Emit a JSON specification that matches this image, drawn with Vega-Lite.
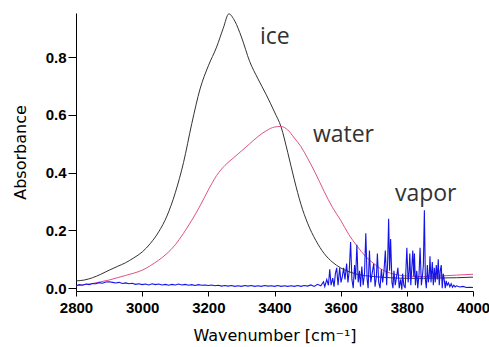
{
  "$schema": "https://vega.github.io/schema/vega-lite/v6.json",
  "width": 397,
  "height": 278,
  "autosize": {"type": "none"},
  "padding": {"left": 76, "top": 13, "right": 16, "bottom": 56},
  "background": "white",
  "config": {
    "view": {"stroke": null},
    "axis": {
      "grid": false,
      "domainColor": "#000000",
      "domainWidth": 1,
      "tickColor": "#000000",
      "labelColor": "#000000",
      "labelFont": "Liberation Sans",
      "labelFontWeight": "bold",
      "labelFontSize": 15,
      "labelFlush": false,
      "titleFont": "DejaVu Sans",
      "titleFontWeight": "normal",
      "titleFontSize": 16,
      "titleColor": "#000000"
    }
  },
  "datasets": {
    "ice": [
      {"x": 2800, "y": 0.025}, {"x": 2825, "y": 0.028}, {"x": 2850, "y": 0.036}, {"x": 2875, "y": 0.048},
      {"x": 2900, "y": 0.062}, {"x": 2925, "y": 0.075}, {"x": 2950, "y": 0.088}, {"x": 2975, "y": 0.105},
      {"x": 3000, "y": 0.125}, {"x": 3025, "y": 0.155}, {"x": 3050, "y": 0.195}, {"x": 3075, "y": 0.25},
      {"x": 3100, "y": 0.33}, {"x": 3125, "y": 0.435}, {"x": 3150, "y": 0.57}, {"x": 3175, "y": 0.69},
      {"x": 3200, "y": 0.77}, {"x": 3225, "y": 0.835}, {"x": 3245, "y": 0.9}, {"x": 3262, "y": 0.95},
      {"x": 3280, "y": 0.925}, {"x": 3300, "y": 0.87}, {"x": 3325, "y": 0.785}, {"x": 3350, "y": 0.725},
      {"x": 3375, "y": 0.67}, {"x": 3400, "y": 0.61}, {"x": 3420, "y": 0.558}, {"x": 3440, "y": 0.47},
      {"x": 3460, "y": 0.375}, {"x": 3480, "y": 0.29}, {"x": 3500, "y": 0.225}, {"x": 3525, "y": 0.165},
      {"x": 3550, "y": 0.12}, {"x": 3575, "y": 0.09}, {"x": 3600, "y": 0.07}, {"x": 3625, "y": 0.057},
      {"x": 3650, "y": 0.048}, {"x": 3675, "y": 0.043}, {"x": 3700, "y": 0.04}, {"x": 3750, "y": 0.036},
      {"x": 3800, "y": 0.034}, {"x": 3850, "y": 0.034}, {"x": 3900, "y": 0.035}, {"x": 3950, "y": 0.036},
      {"x": 4000, "y": 0.038}
    ],
    "water": [
      {"x": 2800, "y": 0.008}, {"x": 2825, "y": 0.012}, {"x": 2850, "y": 0.016}, {"x": 2875, "y": 0.022},
      {"x": 2900, "y": 0.028}, {"x": 2925, "y": 0.036}, {"x": 2950, "y": 0.044}, {"x": 2975, "y": 0.052},
      {"x": 3000, "y": 0.062}, {"x": 3025, "y": 0.078}, {"x": 3050, "y": 0.097}, {"x": 3075, "y": 0.12},
      {"x": 3100, "y": 0.15}, {"x": 3125, "y": 0.19}, {"x": 3150, "y": 0.235}, {"x": 3175, "y": 0.285},
      {"x": 3200, "y": 0.34}, {"x": 3225, "y": 0.39}, {"x": 3250, "y": 0.425}, {"x": 3275, "y": 0.45},
      {"x": 3300, "y": 0.475}, {"x": 3325, "y": 0.5}, {"x": 3350, "y": 0.525}, {"x": 3375, "y": 0.545},
      {"x": 3400, "y": 0.558}, {"x": 3420, "y": 0.56}, {"x": 3440, "y": 0.548}, {"x": 3460, "y": 0.52},
      {"x": 3480, "y": 0.49}, {"x": 3500, "y": 0.45}, {"x": 3525, "y": 0.395}, {"x": 3550, "y": 0.335},
      {"x": 3575, "y": 0.28}, {"x": 3600, "y": 0.235}, {"x": 3625, "y": 0.185}, {"x": 3650, "y": 0.145},
      {"x": 3675, "y": 0.11}, {"x": 3700, "y": 0.085}, {"x": 3725, "y": 0.064}, {"x": 3750, "y": 0.052},
      {"x": 3775, "y": 0.045}, {"x": 3800, "y": 0.042}, {"x": 3850, "y": 0.04}, {"x": 3900, "y": 0.042},
      {"x": 3950, "y": 0.045}, {"x": 4000, "y": 0.048}
    ],
    "vapor": [
      {"x": 2800, "y": 0.008}, {"x": 2810, "y": 0.012}, {"x": 2820, "y": 0.01}, {"x": 2830, "y": 0.014},
      {"x": 2840, "y": 0.012}, {"x": 2850, "y": 0.016}, {"x": 2860, "y": 0.015}, {"x": 2870, "y": 0.019},
      {"x": 2880, "y": 0.017}, {"x": 2890, "y": 0.021}, {"x": 2900, "y": 0.022}, {"x": 2910, "y": 0.02},
      {"x": 2920, "y": 0.018}, {"x": 2930, "y": 0.02}, {"x": 2940, "y": 0.016}, {"x": 2950, "y": 0.018},
      {"x": 2960, "y": 0.015}, {"x": 2970, "y": 0.017}, {"x": 2980, "y": 0.013}, {"x": 2990, "y": 0.015},
      {"x": 3000, "y": 0.012}, {"x": 3010, "y": 0.014}, {"x": 3020, "y": 0.011}, {"x": 3030, "y": 0.015},
      {"x": 3040, "y": 0.012}, {"x": 3050, "y": 0.014}, {"x": 3060, "y": 0.011}, {"x": 3070, "y": 0.013},
      {"x": 3080, "y": 0.01}, {"x": 3090, "y": 0.013}, {"x": 3100, "y": 0.011}, {"x": 3110, "y": 0.014},
      {"x": 3120, "y": 0.011}, {"x": 3130, "y": 0.013}, {"x": 3140, "y": 0.01}, {"x": 3150, "y": 0.012},
      {"x": 3160, "y": 0.009}, {"x": 3170, "y": 0.012}, {"x": 3180, "y": 0.01}, {"x": 3190, "y": 0.011},
      {"x": 3200, "y": 0.009}, {"x": 3210, "y": 0.011}, {"x": 3220, "y": 0.008}, {"x": 3230, "y": 0.01},
      {"x": 3240, "y": 0.007}, {"x": 3250, "y": 0.009}, {"x": 3260, "y": 0.007}, {"x": 3270, "y": 0.009},
      {"x": 3280, "y": 0.006}, {"x": 3290, "y": 0.008}, {"x": 3300, "y": 0.006}, {"x": 3310, "y": 0.009},
      {"x": 3320, "y": 0.007}, {"x": 3330, "y": 0.009}, {"x": 3340, "y": 0.006}, {"x": 3350, "y": 0.008},
      {"x": 3360, "y": 0.006}, {"x": 3370, "y": 0.009}, {"x": 3380, "y": 0.007}, {"x": 3390, "y": 0.008},
      {"x": 3400, "y": 0.006}, {"x": 3410, "y": 0.009}, {"x": 3420, "y": 0.006}, {"x": 3430, "y": 0.008},
      {"x": 3440, "y": 0.006}, {"x": 3450, "y": 0.008}, {"x": 3460, "y": 0.006}, {"x": 3470, "y": 0.009},
      {"x": 3480, "y": 0.006}, {"x": 3490, "y": 0.009}, {"x": 3500, "y": 0.007}, {"x": 3510, "y": 0.011},
      {"x": 3520, "y": 0.006}, {"x": 3530, "y": 0.013}, {"x": 3540, "y": 0.008}, {"x": 3548, "y": 0.022},
      {"x": 3552, "y": 0.005}, {"x": 3558, "y": 0.03}, {"x": 3563, "y": 0.01}, {"x": 3567, "y": 0.065},
      {"x": 3571, "y": 0.01}, {"x": 3576, "y": 0.035}, {"x": 3580, "y": 0.005}, {"x": 3584, "y": 0.05},
      {"x": 3588, "y": 0.07}, {"x": 3592, "y": 0.01}, {"x": 3597, "y": 0.07}, {"x": 3601, "y": 0.02},
      {"x": 3605, "y": 0.04}, {"x": 3609, "y": 0.07}, {"x": 3613, "y": 0.03}, {"x": 3618, "y": 0.085},
      {"x": 3622, "y": 0.02}, {"x": 3626, "y": 0.06}, {"x": 3630, "y": 0.16}, {"x": 3634, "y": 0.03},
      {"x": 3638, "y": 0.0}, {"x": 3642, "y": 0.08}, {"x": 3645, "y": 0.03}, {"x": 3649, "y": 0.15},
      {"x": 3653, "y": 0.02}, {"x": 3657, "y": 0.06}, {"x": 3660, "y": 0.005}, {"x": 3664, "y": 0.075},
      {"x": 3668, "y": 0.01}, {"x": 3672, "y": 0.05}, {"x": 3676, "y": 0.19}, {"x": 3680, "y": 0.03},
      {"x": 3683, "y": 0.0}, {"x": 3687, "y": 0.13}, {"x": 3691, "y": 0.02}, {"x": 3695, "y": 0.05},
      {"x": 3700, "y": 0.085}, {"x": 3704, "y": 0.005}, {"x": 3708, "y": 0.04}, {"x": 3711, "y": 0.12},
      {"x": 3715, "y": 0.02}, {"x": 3719, "y": 0.0}, {"x": 3723, "y": 0.065}, {"x": 3727, "y": 0.02},
      {"x": 3731, "y": 0.06}, {"x": 3735, "y": 0.13}, {"x": 3739, "y": 0.01}, {"x": 3742, "y": 0.09},
      {"x": 3745, "y": 0.24}, {"x": 3748, "y": 0.06}, {"x": 3751, "y": 0.17}, {"x": 3755, "y": 0.02},
      {"x": 3758, "y": 0.0}, {"x": 3761, "y": 0.06}, {"x": 3765, "y": 0.01}, {"x": 3769, "y": 0.04},
      {"x": 3773, "y": 0.07}, {"x": 3777, "y": 0.0}, {"x": 3781, "y": 0.03}, {"x": 3785, "y": -0.005},
      {"x": 3787, "y": 0.05}, {"x": 3791, "y": 0.01}, {"x": 3795, "y": 0.0}, {"x": 3800, "y": 0.14},
      {"x": 3804, "y": 0.02}, {"x": 3807, "y": 0.06}, {"x": 3809, "y": 0.12}, {"x": 3812, "y": 0.01},
      {"x": 3815, "y": 0.07}, {"x": 3818, "y": 0.13}, {"x": 3821, "y": 0.04}, {"x": 3823, "y": 0.12},
      {"x": 3826, "y": 0.01}, {"x": 3830, "y": 0.06}, {"x": 3833, "y": 0.0}, {"x": 3837, "y": 0.05},
      {"x": 3840, "y": 0.14}, {"x": 3844, "y": 0.01}, {"x": 3847, "y": 0.04}, {"x": 3850, "y": 0.08},
      {"x": 3853, "y": 0.27}, {"x": 3856, "y": 0.03}, {"x": 3859, "y": 0.0}, {"x": 3862, "y": 0.08},
      {"x": 3865, "y": 0.02}, {"x": 3868, "y": 0.05}, {"x": 3870, "y": 0.11}, {"x": 3873, "y": 0.02},
      {"x": 3877, "y": 0.09}, {"x": 3880, "y": 0.01}, {"x": 3883, "y": 0.07}, {"x": 3886, "y": 0.02},
      {"x": 3889, "y": 0.08}, {"x": 3892, "y": 0.03}, {"x": 3895, "y": 0.1}, {"x": 3898, "y": 0.01},
      {"x": 3901, "y": 0.06}, {"x": 3904, "y": 0.08}, {"x": 3907, "y": 0.0}, {"x": 3910, "y": 0.05},
      {"x": 3913, "y": 0.03}, {"x": 3916, "y": 0.0}, {"x": 3919, "y": 0.025}, {"x": 3922, "y": 0.01},
      {"x": 3926, "y": 0.018}, {"x": 3930, "y": 0.005}, {"x": 3934, "y": 0.015}, {"x": 3938, "y": 0.003},
      {"x": 3942, "y": 0.01}, {"x": 3946, "y": 0.004}, {"x": 3950, "y": 0.008}, {"x": 3960, "y": 0.004},
      {"x": 3970, "y": 0.006}, {"x": 3980, "y": 0.002}, {"x": 3990, "y": 0.003}, {"x": 4000, "y": 0.002}
    ],
    "labels": [
      {"x": 3356, "y": 0.846, "label": "ice"},
      {"x": 3516, "y": 0.506, "label": "water"},
      {"x": 3764, "y": 0.302, "label": "vapor"}
    ]
  },
  "layer": [
    {
      "data": {"name": "ice"},
      "mark": {"type": "line", "color": "#333333", "strokeWidth": 1, "interpolate": "monotone"},
      "encoding": {
        "x": {
          "field": "x", "type": "quantitative",
          "scale": {"domain": [2800, 4000], "nice": false, "zero": false},
          "axis": {"values": [2800, 3000, 3200, 3400, 3600, 3800, 4000], "format": "d", "tickSize": 5, "labelPadding": 4, "title": "Wavenumber [cm⁻¹]", "titlePadding": 12}
        },
        "y": {
          "field": "y", "type": "quantitative",
          "scale": {"domain": [-0.01, 0.953], "nice": false, "zero": false},
          "axis": {"values": [0, 0.2, 0.4, 0.6, 0.8], "format": ".1f", "tickSize": 8, "labelPadding": 2, "title": "Absorbance", "titlePadding": 17}
        }
      }
    },
    {
      "data": {"name": "water"},
      "mark": {"type": "line", "color": "#e0508a", "strokeWidth": 1, "interpolate": "monotone"},
      "encoding": {
        "x": {"field": "x", "type": "quantitative"},
        "y": {"field": "y", "type": "quantitative"}
      }
    },
    {
      "data": {"name": "vapor"},
      "mark": {"type": "line", "color": "#1414e6", "strokeWidth": 1.1},
      "encoding": {
        "x": {"field": "x", "type": "quantitative"},
        "y": {"field": "y", "type": "quantitative"}
      }
    },
    {
      "data": {"name": "labels"},
      "mark": {"type": "text", "align": "left", "baseline": "alphabetic", "font": "Open Sans", "fontSize": 23, "color": "#333333"},
      "encoding": {
        "x": {"field": "x", "type": "quantitative"},
        "y": {"field": "y", "type": "quantitative"},
        "text": {"field": "label"}
      }
    }
  ]
}
